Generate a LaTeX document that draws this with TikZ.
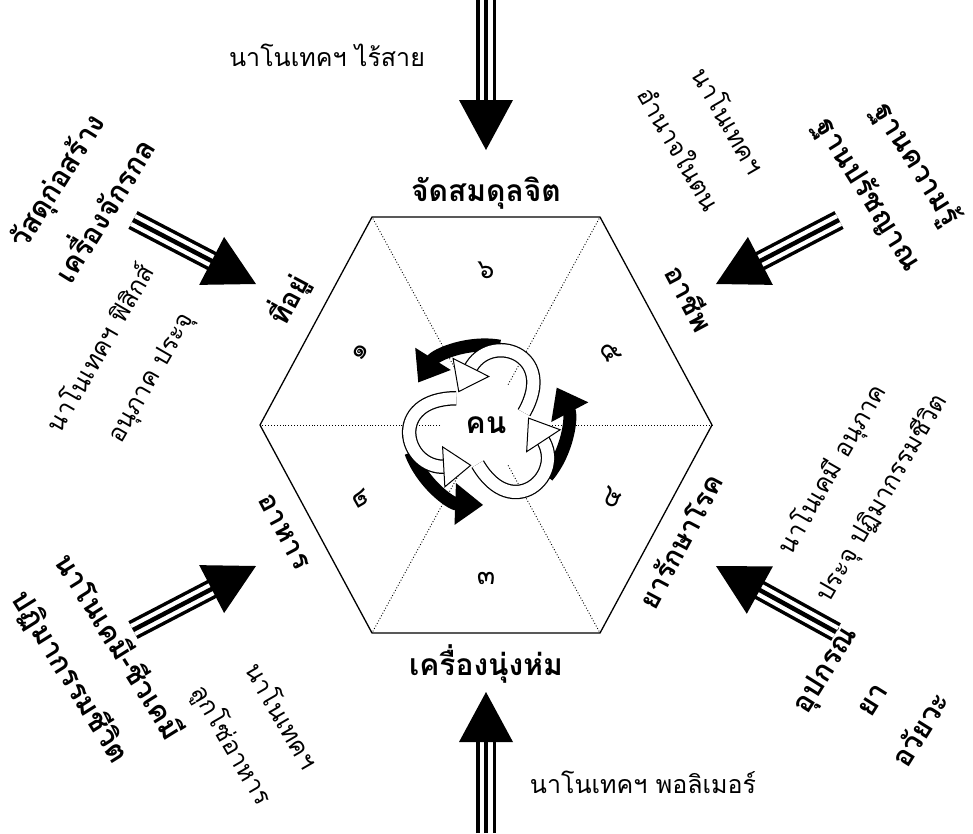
\documentclass[tikz,border=0pt]{standalone}
\usepackage{fontspec}
\newfontfamily\thai[Script=Thai]{Loma}
\usetikzlibrary{calc,arrows.meta}

\tikzset{
  hexline/.style={line width=1.3pt, line join=miter},
  spoke/.style={dotted, line width=0.9pt},
  sidelabel/.style={font=\thai\bfseries\fontsize{28}{30}\selectfont},
  mainlabel/.style={font=\thai\bfseries\fontsize{30}{32}\selectfont},
  outerlabel/.style={font=\thai\bfseries\fontsize{29}{57}\selectfont, align=center},
  techlabel/.style={font=\thai\fontsize{25}{57}\selectfont, align=center},
  numlabel/.style={font=\thai\fontsize{27}{28}\selectfont},
  shaftouter/.style={line width=20pt},
  shaftgap/.style={line width=13pt, white},
  shaftmid/.style={line width=4.5pt},
  cyclearrow/.style={line width=13pt, -{Triangle[length=28pt,width=40pt]}},
  ribbon/.style={line width=12pt, white, preaction={draw=black, line width=14.5pt}},
  ribbonhead/.style={fill=white, draw=black, line width=1pt, line join=miter},
}

% triple-shaft arrow from #1 to tip #2
\newcommand{\nanoarrow}[2]{%
  \coordinate (hb) at ($(#2)!50pt!(#1)$);
  \draw[shaftouter] (#1) -- ($(#2)!45pt!(#1)$);
  \draw[shaftgap] (#1) -- ($(#2)!45pt!(#1)$);
  \draw[shaftmid] (#1) -- ($(#2)!45pt!(#1)$);
  \fill (#2) -- ($(hb)!27pt!90:(#2)$) -- ($(hb)!27pt!-90:(#2)$) -- cycle;
}

\begin{document}
\begin{tikzpicture}[x=1pt, y=-1pt]
  \useasboundingbox (0,0) rectangle (973,833);

  \coordinate (c) at (486,425);
  \coordinate (hL) at (260,425);
  \coordinate (hTL) at (372,217);
  \coordinate (hTR) at (600,217);
  \coordinate (hR) at (712,425);
  \coordinate (hBR) at (600,633);
  \coordinate (hBL) at (372,633);

  \foreach \v in {hL,hTL,hTR,hR,hBR,hBL}
    \draw[spoke] ($(c)!46pt!(\v)$) -- (\v);
  \draw[hexline] (hL) -- (hTL) -- (hTR) -- (hR) -- (hBR) -- (hBL) -- cycle;

  % centre cycle: black arrows, then white ribbons, then their heads
  \begin{scope}[shift={(c)}]
    \foreach \r in {0,120,240} {
      \begin{scope}[rotate=\r]
        \draw[cyclearrow] (80:80pt) arc[start angle=80, end angle=148, radius=80pt];
      \end{scope}
    }
    \foreach \r in {0,120,240} {
      \begin{scope}[rotate=\r]
        \draw[ribbon] (18:40pt) .. controls (45:102pt) and (88:94pt) .. (106:58pt);
      \end{scope}
    }
    \foreach \r in {0,120,240} {
      \begin{scope}[rotate=\r]
        \coordinate (rc) at (88:94pt);
        \coordinate (re) at (106:58pt);
        \coordinate (rb) at ($(re)!2pt!(rc)$);
        \filldraw[ribbonhead] ($(re)!-25pt!(rc)$) -- ($(rb)!20pt!90:(rc)$)
          -- ($(rb)!20pt!-90:(rc)$) -- cycle;
      \end{scope}
    }
  \end{scope}
  \node[mainlabel] (person) at (c) {คน};

  \node[numlabel, rotate=60] (n1) at (361,352) {๑};
  \node[numlabel, rotate=-60] (n2) at (361,498) {๒};
  \node[numlabel] (n3) at (486,578) {๓};
  \node[numlabel, rotate=60] (n4) at (611,498) {๔};
  \node[numlabel, rotate=-60] (n5) at (611,352) {๕};
  \node[numlabel] (n6) at (486,270) {๖};

  \node[mainlabel, anchor=base] (mind) at (486,201) {จัดสมดุลจิต};
  \node[mainlabel, anchor=base] (cloth) at (486,675) {เครื่องนุ่งห่ม};
  \node[sidelabel, rotate=62] (home) at (288,300) {ที่อยู่};
  \node[sidelabel, rotate=-62] (career) at (690,298) {อาชีพ};
  \node[sidelabel, rotate=-62] (food) at (284,532) {อาหาร};
  \node[sidelabel, rotate=62] (medicine) at (680,541) {ยารักษาโรค};

  \node[outerlabel, rotate=58] (build) at (80,195) {วัสดุก่อสร้าง\\เครื่องจักรกล};
  \node[outerlabel, rotate=-58] (wisdom) at (892,180) {ฐานความรู้\\ฐานปรัชญาณ};
  \node[outerlabel, rotate=-58] (biochem) at (94,662) {นาโนเคมี-ชีวเคมี\\ปฏิมากรรมชีวิต};
  \node[outerlabel, rotate=58] (organ) at (870,698) {อุปกรณ์\\ยา\\อวัยวะ};

  \node[techlabel] (wireless) at (327,55) {นาโนเทคฯ ไร้สาย};
  \node[techlabel] (polymer) at (643,782) {นาโนเทคฯ พอลิเมอร์};
  \node[techlabel, rotate=60] (physics) at (126,363) {นาโนเทคฯ ฟิสิกส์\\อนุภาค ประจุ};
  \node[techlabel, rotate=-60] (self) at (705,134) {นาโนเทคฯ\\อำนาจในตน};
  \node[techlabel, rotate=60] (chem) at (857,484) {นาโนเคมี อนุภาค\\ประจุ ปฏิมากรรมชีวิต};
  \node[techlabel, rotate=-60] (chain) at (256,731) {นาโนเทคฯ\\ลูกโซ่อาหาร};

  \coordinate (sT) at (486,0);    \coordinate (tT) at (486,150);
  \coordinate (sB) at (486,833);  \coordinate (tB) at (486,692);
  \coordinate (sUL) at (133,220); \coordinate (tUL) at (256,284);
  \coordinate (sUR) at (839,220); \coordinate (tUR) at (716,284);
  \coordinate (sLL) at (133,630); \coordinate (tLL) at (256,566);
  \coordinate (sLR) at (836,632); \coordinate (tLR) at (716,566);
  \nanoarrow{sT}{tT}
  \nanoarrow{sB}{tB}
  \nanoarrow{sUL}{tUL}
  \nanoarrow{sUR}{tUR}
  \nanoarrow{sLL}{tLL}
  \nanoarrow{sLR}{tLR}
\end{tikzpicture}
\end{document}
